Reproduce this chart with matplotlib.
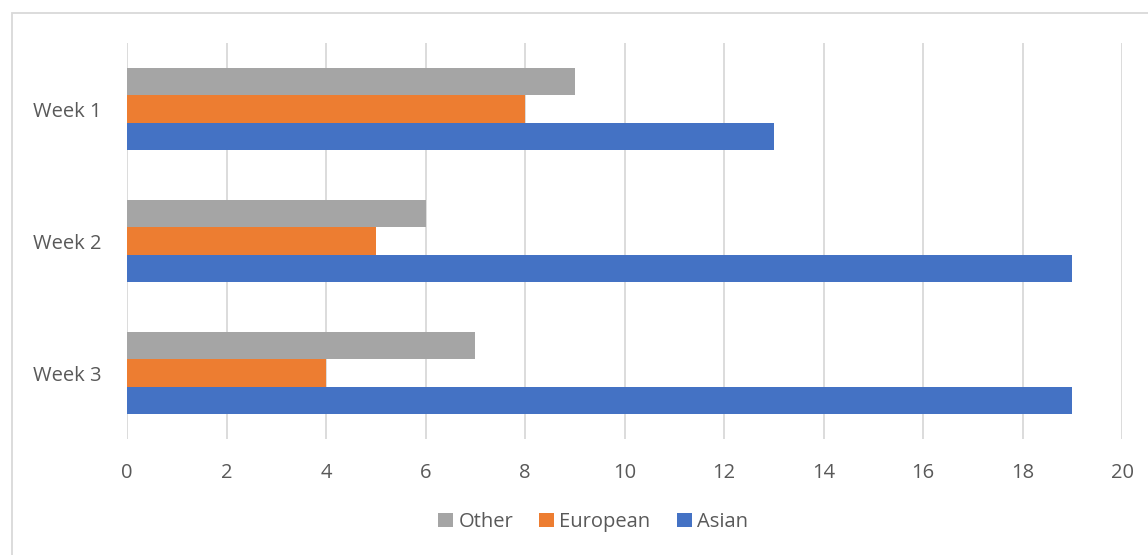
import matplotlib
matplotlib.use("Agg")
import matplotlib.pyplot as plt
from matplotlib.patches import Rectangle
import numpy as np

categories = ["Week 1", "Week 2", "Week 3"]
series_names = ["Other", "European", "Asian"]
other = [9, 6, 7]
european = [8, 5, 4]
asian = [13, 19, 19]
colors = ["#A5A5A5", "#ED7D31", "#4472C4"]
xticks = [0, 2, 4, 6, 8, 10, 12, 14, 16, 18, 20]

W, H = 1148, 555
fig = plt.figure(figsize=(W / 100, H / 100), dpi=100)
plt.rcParams['font.family'] = ['Open Sans', 'DejaVu Sans']

# outer chart border
fig.patches.append(Rectangle((12 / W, -0.1), 1.2, 1 - 13 / H + 0.1, transform=fig.transFigure,
                             fill=False, edgecolor="#D9D9D9", linewidth=1.3))

left, right, top, bottom = 127, 1122, 43, 439
ax = fig.add_axes([left / W, 1 - bottom / H, (right - left) / W, (bottom - top) / H])

y = np.arange(len(categories))
bh = 0.208
data = [other, european, asian]
offsets = [-1, 0, 1]
for vals, c, off, name in zip(data, colors, offsets, series_names):
    ax.barh(y + off * bh, vals, height=bh, color=c, label=name, zorder=3)

ax.set_ylim(len(categories) - 0.5, -0.5)
ax.set_xlim(0, 20)
ax.set_xticks(xticks)
ax.set_yticks(y)
ax.set_yticklabels(categories)
ax.tick_params(axis="both", length=0, labelsize=14.5, colors="#595959")
ax.tick_params(axis="x", pad=17)
ax.tick_params(axis="y", pad=18)
ax.grid(axis="x", color="#D9D9D9", linewidth=1.3, zorder=0)
for s in ax.spines.values():
    s.set_visible(False)

leg = fig.legend(loc="center", bbox_to_anchor=(593 / W, 1 - 522 / H), ncol=3, frameon=False,
                 fontsize=14.5, handlelength=0.75, handleheight=0.75, handletextpad=0.25,
                 columnspacing=1.3, labelcolor="#595959")

fig.savefig("out.png", dpi=100)
